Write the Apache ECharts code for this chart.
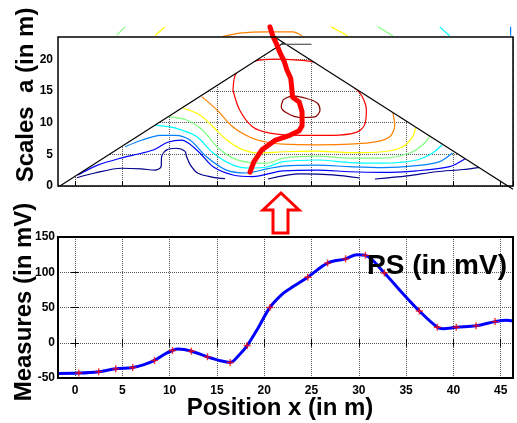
<!DOCTYPE html>
<html>
<head>
<meta charset="utf-8">
<script src="https://cdn.jsdelivr.net/npm/echarts@6/dist/echarts.min.js"></script>
<style>
  html, body { margin: 0; padding: 0; background: #fff; }
  #chart { width: 517px; height: 423px; }
</style>
</head>
<body>
<div id="chart"></div>
<script>
// axis extents
const xMin = -1.8, xMax = 46.3;
const aMax = 23.5;
const vMin = -50, vMax = 150;

// --- top panel: scalogram contours, [x, a] ---
const navy1 = [[0.2,1.3],[2.1,2.05],[4.9,2.8],[7.0,2.7],[8.45,2.5],[9.1,3.05],[9.15,4.6],[9.7,5.7],[10.7,5.95],[11.6,5.5],[11.8,4.6],[12.2,3.3],[13.0,2.0],[14.5,1.4],[15.85,1.15]];
const navy2 = [[20.4,1.1],[23.8,1.9],[27.25,1.74],[30.1,1.26]];
const navy3 = [[31.7,1.1],[35.1,1.6],[38.2,2.25],[41.0,2.6],[42.8,2.95]];
const blue = [[0.3,1.74],[2.4,3.3],[4.85,4.4],[7.1,5.2],[8.45,5.8],[9.8,6.9],[11.3,7.25],[12.15,6.6],[13.2,5.2],[14.6,3.05],[16.7,1.74],[18.8,1.47],[22.0,2.4],[25.6,2.5],[29.05,2.25],[32.5,2.15],[36.1,2.4],[39.6,3.05],[41.2,4.26]];
const sky = [[5.3,6.2],[7.1,7.25],[9.0,8.0],[10.6,8.0],[12.15,7.25],[13.9,4.6],[16.0,2.5],[18.1,2.05],[20.3,2.7],[22.0,3.15],[25.6,3.3],[29.05,3.05],[32.5,2.9],[36.1,3.2],[38.55,3.85],[39.9,5.2]];
const cyan = [[8.45,9.6],[10.7,9.1],[12.85,7.8],[14.6,5.2],[16.7,3.3],[18.5,2.84],[20.3,3.0],[22.0,3.85],[25.6,4.1],[29.05,3.7],[32.5,3.6],[36.1,4.1],[37.8,5.2],[38.8,6.5]];
const green = [[10.0,10.9],[11.8,10.4],[13.5,8.8],[15.0,6.2],[16.7,4.4],[18.5,3.7],[20.3,3.6],[22.0,4.4],[25.6,4.7],[29.05,4.4],[32.5,4.4],[35.4,5.2],[36.75,6.5],[37.5,7.8]];
const yellow = [[11.4,12.3],[13.2,11.2],[14.6,9.3],[16.05,7.25],[17.75,5.7],[19.5,5.2],[22.0,5.4],[25.6,5.5],[29.05,5.25],[32.5,5.4],[34.65,6.2],[35.7,7.8],[36.0,9.2]];
const orange = [[13.4,14.1],[15.0,12.0],[16.7,9.3],[18.5,7.7],[20.3,6.9],[22.0,6.6],[25.6,6.5],[29.05,6.6],[31.9,7.0],[33.3,7.8],[33.8,9.6],[33.6,11.5]];
const red = [[16.7,15.1],[16.9,17.35],[17.6,18.8],[19.0,19.7],[21.1,20.0],[23.2,19.9],[25.6,19.4],[28.0,17.2],[30.1,14.7],[30.8,12.0],[30.6,9.6],[29.8,8.5],[27.25,8.0],[23.8,8.0],[20.6,8.35],[18.8,9.3],[17.4,12.0],[16.7,15.1]];
const darkRed = [[22.0,13.6],[23.0,14.2],[24.5,13.8],[25.6,13.1],[25.9,12.0],[25.35,10.9],[23.8,10.8],[22.4,11.5],[21.8,12.5],[22.0,13.6]];

// bits of contours seen above the frame
const greenTop1 = [[4.4,23.8],[5.3,25.1]];
const yellowTop1 = [[8.45,23.7],[9.5,25.1]];
const orangeTop = [[15.6,23.55],[17.4,24.1],[20.3,24.3],[23.0,24.3],[24.0,23.7]];
const yellowTop2 = [[27.1,25.1],[28.8,23.7]];
const greenTop2 = [[32.0,25.1],[33.6,23.7]];
const cyanTop = [[38.55,25.1],[39.6,23.7]];
const skyTop = [[46.05,25.1],[46.05,23.7]];

// ridge line of maxima
const ridge = [[18.5,2.2],[18.9,3.8],[19.75,5.7],[21.2,7.25],[22.7,8.0],[23.7,8.7],[24.0,9.5],[24.0,11.7],[23.7,13.25],[23.0,14.0],[22.9,15.6],[22.8,17.0],[22.4,18.3],[22.1,19.7],[21.65,21.1],[21.3,22.4],[20.9,23.7],[20.6,25.1]];

// cone of influence
const cone = [[-1.6,0],[22.07,22.58],[45.8,0]];
const coneLeft = [[-1.6,0],[22.07,22.58]];
const coneRight = [[21.1,23.5],[46.3,-0.5]];
const coneStub = [[21.8,22.35],[25.0,22.35]];

// --- bottom panel: PS measures ---
const markX = [0.4, 2.5, 4.3, 6.1, 8.4, 10.3, 12.3, 14.0, 16.4, 18.2, 20.6, 24.6, 26.7, 28.6, 30.7, 32.7, 36.4, 38.3, 40.3, 42.4, 44.4];
const markV = [-43, -41, -37, -35, -25, -11, -12, -20, -28, -4, 50, 93, 113, 119, 124, 99, 45, 22, 22, 24, 30];
const curveX = [-1.8, 0.4, 2.5, 4.3, 6.1, 7.3, 8.4, 9.5, 10.3, 10.9, 12.3, 14.0, 15.5, 16.4, 17.3, 18.2, 19.4, 20.6, 22.0, 23.1, 24.6, 26.7, 28.6, 29.8, 30.7, 32.7, 34.5, 36.4, 38.3, 38.9, 40.3, 42.4, 44.4, 45.6, 46.3];
const curveV = [-43.5, -43, -41, -37, -35, -31, -25, -16, -11, -9, -12, -20, -26, -28, -18, -4, 22, 50, 70, 80, 93, 113, 119, 125, 124, 99, 72, 45, 22, 20, 22, 24, 30, 32, 31];

const FONT = 'Liberation Sans';
const gridLine = { show: true, lineStyle: { color: '#555', type: [1, 1], width: 1 } };
const tickLabel = (margin) => ({
  fontFamily: FONT, fontWeight: 'bold', fontSize: 12, color: '#000', margin,
  formatter: (v) => (Math.abs(v % 5) < 1e-6 ? String(v) : '')
});
const innerTick = (len) => ({ show: true, inside: true, length: len, lineStyle: { color: '#000' } });

const contour = (data, color) => ({
  type: 'line', xAxisIndex: 0, yAxisIndex: 0, data, symbol: 'none',
  smooth: 0.3, clip: false, silent: true, z: 2,
  lineStyle: { color, width: 1.2 }
});
const edge = (data, color) => ({
  type: 'line', xAxisIndex: 0, yAxisIndex: 0, data, symbol: 'none',
  clip: false, silent: true, z: 6, lineStyle: { color: color || '#000', width: 1.2 }
});
const frame = (i, w) => ({
  type: 'custom', xAxisIndex: i, yAxisIndex: i, data: [[0, 0]], z: 9, silent: true,
  renderItem: (params) => ({
    type: 'rect',
    shape: { x: params.coordSys.x, y: params.coordSys.y, width: params.coordSys.width, height: params.coordSys.height },
    style: { fill: 'none', stroke: '#000', lineWidth: w }
  })
});

const maskPts = [[xMin, 0], cone[0], cone[1], cone[2], [xMax, 0], [xMax, aMax], [xMin, aMax]];

const chart = echarts.init(document.getElementById('chart'));
chart.setOption({
  animation: false,
  backgroundColor: '#fff',
  grid: [
    { left: 58, top: 37, width: 455, height: 149 },
    { left: 58, top: 237, width: 455, height: 141 }
  ],
  xAxis: [
    { type: 'value', gridIndex: 0, min: xMin, max: xMax, splitNumber: 10,
      axisLine: { show: false }, axisLabel: { show: false },
      axisTick: innerTick(5), splitLine: gridLine },
    { type: 'value', gridIndex: 1, min: xMin, max: xMax, splitNumber: 10, position: 'bottom',
      axisLine: { show: false }, axisTick: innerTick(4),
      axisLabel: tickLabel(7), splitLine: gridLine },
    { type: 'value', gridIndex: 1, min: xMin, max: xMax, splitNumber: 10, position: 'top',
      axisLine: { show: false }, axisTick: innerTick(4),
      axisLabel: { show: false }, splitLine: { show: false } }
  ],
  yAxis: [
    { type: 'value', gridIndex: 0, min: 0, max: aMax, interval: 5,
      axisLine: { show: false }, axisTick: { show: false },
      axisLabel: tickLabel(5), splitLine: gridLine },
    { type: 'value', gridIndex: 1, min: vMin, max: vMax, interval: 50, position: 'left',
      axisLine: { show: false }, axisTick: innerTick(4),
      axisLabel: tickLabel(3), splitLine: gridLine },
    { type: 'value', gridIndex: 1, min: vMin, max: vMax, interval: 50, position: 'right',
      axisLine: { show: false }, axisTick: innerTick(4),
      axisLabel: { show: false }, splitLine: { show: false } }
  ],
  series: [
    contour(navy1, '#00008b'), contour(navy2, '#00008b'), contour(navy3, '#00008b'),
    contour(blue, '#0000ff'),
    contour(sky, '#0080ff'),
    contour(cyan, '#00ffff'),
    contour(green, '#80ff80'),
    contour(yellow, '#ffff00'),
    contour(orange, '#ff8000'),
    contour(red, '#ff0000'),
    contour(darkRed, '#8b0000'),
    contour(greenTop1, '#80ff80'), contour(yellowTop1, '#ffff00'),
    contour(orangeTop, '#ff8000'), contour(yellowTop2, '#ffff00'),
    contour(greenTop2, '#80ff80'), contour(cyanTop, '#00ffff'),
    contour(skyTop, '#0080ff'),
    {
      type: 'custom', xAxisIndex: 0, yAxisIndex: 0, data: [[0, 0]], z: 5, silent: true,
      renderItem: (params, api) => ({
        type: 'polygon',
        shape: { points: maskPts.map((p) => api.coord(p)) },
        style: { fill: '#fff', stroke: null }
      })
    },
    edge(coneLeft), edge(coneRight), edge(coneStub, '#555'),
    {
      type: 'line', xAxisIndex: 0, yAxisIndex: 0, data: ridge, symbol: 'none',
      clip: false, silent: true, z: 8,
      lineStyle: { color: '#ff0000', width: 5, join: 'round', cap: 'round' }
    },
    frame(0, 1.5),
    {
      type: 'line', xAxisIndex: 1, yAxisIndex: 1,
      data: curveX.map((x, i) => [x, curveV[i]]),
      symbol: 'none', smooth: 0.35, silent: true, z: 3,
      lineStyle: { color: '#0000ff', width: 3 }
    },
    {
      type: 'scatter', xAxisIndex: 1, yAxisIndex: 1,
      data: markX.map((x, i) => [x, markV[i]]),
      symbol: 'path://M4,0H6V4H10V6H6V10H4V6H0V4H4Z', symbolSize: 7,
      itemStyle: { color: '#ff0000' }, silent: true, z: 4
    },
    frame(1, 2)
  ],
  graphic: [
    { type: 'polygon', z: 10,
      shape: { points: [[281, 193], [299, 210], [288, 210], [288, 233], [273, 233], [273, 210], [263, 210]] },
      style: { fill: '#fff', stroke: '#ff0000', lineWidth: 3 } },
    { type: 'text', x: 26, y: 95, rotation: Math.PI / 2, z: 10,
      style: { text: 'Scales  a (in m)', font: 'bold 24px "Liberation Sans"', fill: '#000',
        align: 'center', verticalAlign: 'middle', textAlign: 'center', textVerticalAlign: 'middle' } },
    { type: 'text', x: 24, y: 302, rotation: Math.PI / 2, z: 10,
      style: { text: 'Measures (in mV)', font: 'bold 24px "Liberation Sans"', fill: '#000',
        align: 'center', verticalAlign: 'middle', textAlign: 'center', textVerticalAlign: 'middle' } },
    { type: 'text', x: 280, y: 408, z: 10,
      style: { text: 'Position x (in m)', font: 'bold 24px "Liberation Sans"', fill: '#000',
        align: 'center', verticalAlign: 'middle', textAlign: 'center', textVerticalAlign: 'middle' } },
    { type: 'text', x: 367, y: 266, z: 10,
      style: { text: 'PS (in mV)', font: 'bold 28px "Liberation Sans"', fill: '#000',
        align: 'left', verticalAlign: 'middle', textAlign: 'left', textVerticalAlign: 'middle' } }
  ]
});
</script>
</body>
</html>
